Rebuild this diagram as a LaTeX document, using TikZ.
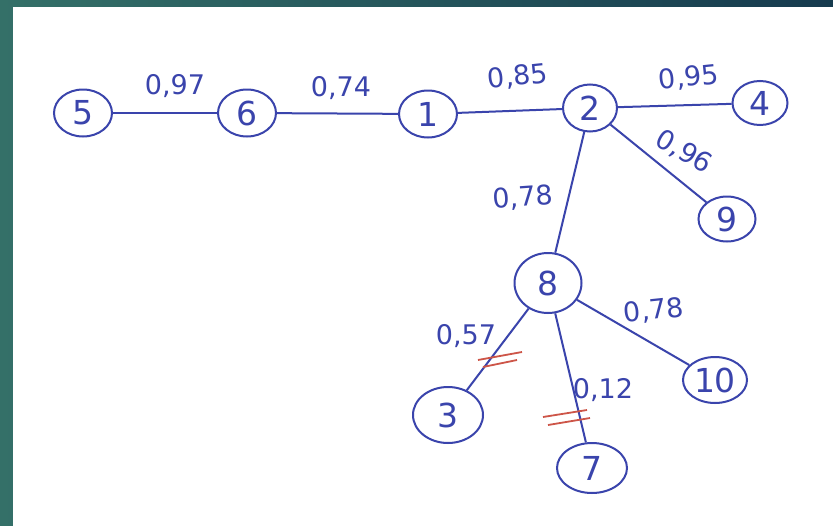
\documentclass[tikz,border=0pt]{standalone}
\usepackage{fontspec}
\setmainfont{DejaVu Sans}
\usetikzlibrary{shapes.geometric}

\definecolor{penblue}{RGB}{58,68,172}
\definecolor{penred}{RGB}{205,85,72}
\definecolor{frameA}{RGB}{52,112,104}
\definecolor{frameB}{RGB}{22,58,78}

\begin{document}
\begin{tikzpicture}[x=1pt, y=-1pt,
    vert/.style={draw=penblue, ellipse, line width=2pt, text=penblue,
      minimum width=58pt, minimum height=47pt, inner sep=0pt,
      font=\fontsize{33}{33}\selectfont},
    wt/.style={text=penblue, inner sep=0pt, font=\fontsize{27}{27}\selectfont},
    link/.style={draw=penblue, line width=2pt},
    strike/.style={draw=penred, line width=1.8pt}]
        % Rėmelis
        \useasboundingbox (0,0) rectangle (833,525);
        \fill[left color=frameA, right color=frameB] (0,0) rectangle (840,530);
        \fill[white] (13,7) rectangle (840,530);

        % Viršūnės
        \node[vert] (n5) at (83,113) {5};
        \node[vert] (n6) at (247,113) {6};
        \node[vert] (n1) at (428,114) {1};
        \node[vert, minimum width=54pt] (n2) at (590,108) {2};
        \node[vert, minimum width=55pt, minimum height=44pt] (n4) at (760,103) {4};
        \node[vert, minimum width=57pt, minimum height=45pt] (n9) at (727,219) {9};
        \node[vert, minimum width=67pt, minimum height=60pt] (n8) at (548,283) {8};
        \node[vert, minimum width=70pt, minimum height=56pt] (n3) at (448,415) {3};
        \node[vert, minimum width=70pt, minimum height=50pt] (n7) at (592,468) {7};
        \node[vert, minimum width=64pt, minimum height=46pt] (n10) at (715,380) {10};

        % Briaunos
        \draw[link] (n5) -- (n6);
        \draw[link] (n6) -- (n1);
        \draw[link] (n1) -- (n2);
        \draw[link] (n2) -- (n4);
        \draw[link] (n2) -- (n9);
        \draw[link] (n2) -- (n8);
        \draw[link] (n8) -- (n3);
        \draw[link] (n8) -- (n7);
        \draw[link] (n8) -- (n10);

        % Svoriai
        \node[wt] (w56) at (175,86) {0,97};
        \node[wt] (w61) at (341,88) {0,74};
        \node[wt, rotate=6] (w12) at (518,77) {0,85};
        \node[wt, rotate=6] (w24) at (689,78) {0,95};
        \node[wt, rotate=-30] (w29) at (684,152) {0,96};
        \node[wt, rotate=4] (w28) at (523,198) {0,78};
        \node[wt] (w83) at (466,336) {0,57};
        \node[wt, rotate=6] (w810) at (654,311) {0,78};
        \node[wt] (w87) at (603,390) {0,12};

        % Išbrauktos briaunos
        \draw[strike] (478,360) -- (522,352);
        \draw[strike] (483,367) -- (517,360);
        \draw[strike] (543,417) -- (587,410);
        \draw[strike] (548,425) -- (590,418);
    \end{tikzpicture}
\end{document}
